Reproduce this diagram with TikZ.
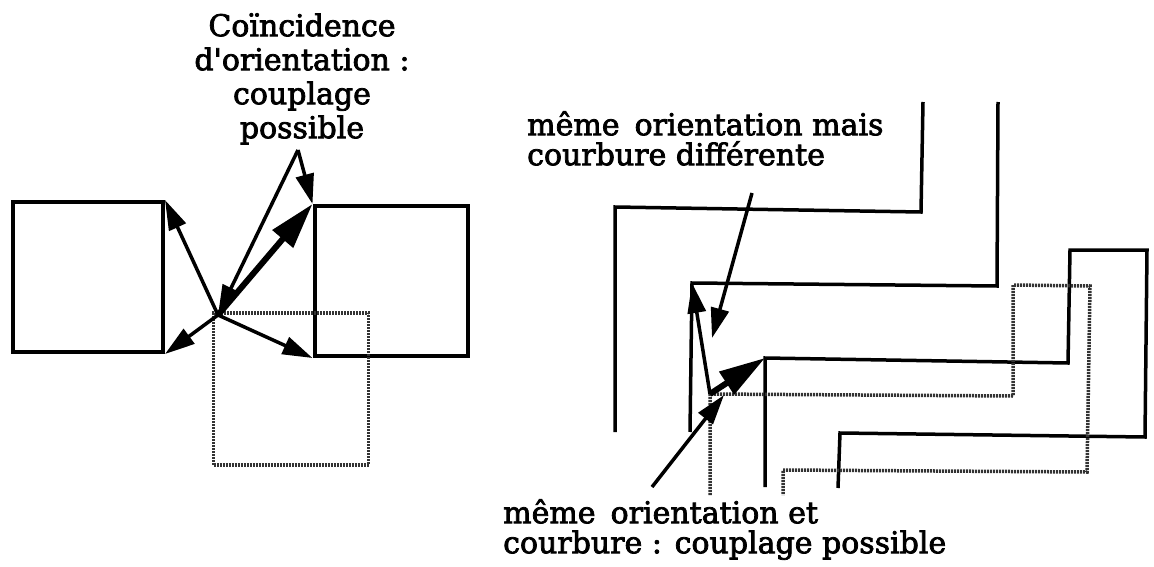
\documentclass[tikz,border=0pt]{standalone}
\usepackage{fontspec}
\setmainfont[FakeBold=2.5]{DejaVu Serif}
\usetikzlibrary{arrows.meta}

\begin{document}
\begin{tikzpicture}[x=1pt, y=-1pt,
  lbl/.style={font=\fontsize{30}{30}\selectfont, inner sep=0pt},
  sq/.style={draw, line width=4pt, inner sep=0pt},
  ghost/.style={draw=black!80, line width=3.5pt, dash pattern=on 2pt off 1pt},
  edge/.style={line width=3.5pt},
  vec/.style={-{Triangle[length=30pt,width=18pt]}, line width=3.5pt},
  bigvec/.style={-{Triangle[length=46pt,width=26pt]}, line width=6pt},
]
\useasboundingbox (0,0) rectangle (1154,567);

% ---------- left: two squares and a shifted one ----------
\node[sq, minimum width=150pt, minimum height=150pt] (ls) at (88,277) {};
\node[sq, minimum width=153pt, minimum height=150pt] (rs) at (391,281) {};
\node[ghost, inner sep=0pt, minimum width=155pt, minimum height=152pt] (gs) at (291,389) {};

\coordinate (P) at (218,315);
\coordinate (apex) at (298,150);

\node[lbl, font=\fontsize{30}{34}\selectfont, align=center, anchor=north]
  (coinc) at (302,13) {Coïncidence\\d\textquotesingle orientation :\\couplage\\possible};

\draw[vec] (P) -- (ls.north east);
\draw[vec] (P) -- (ls.south east);
\draw[bigvec] (P) -- (rs.north west);
\draw[vec] (P) -- (rs.south west);
\draw[vec] (apex) -- (P);
\draw[vec] (apex) -- (rs.north west);

% ---------- right: nested contours ----------
\coordinate (q) at (710,394);
\coordinate (c2) at (692,283);
\coordinate (c3) at (765,358);

\draw[edge] (615,432) -- (615,207) -- (921,212) -- (923,102);
\draw[edge] (690,432) -- (c2) -- (997,286) -- (998,102);
\draw[edge] (765,487) -- (c3) -- (1068,363) -- (1070,250) -- (1147,250)
  -- (1145,437) -- (840,433) -- (838,488);
\draw[ghost] (710,495) -- (q) -- (1013,396) -- (1013,285) -- (1090,286)
  -- (1087,472) -- (783,470) -- (783,495);

\draw[vec] (q) -- (c2);
\draw[bigvec] (q) -- (c3);

% ---------- labels ----------
\node[lbl, align=left, anchor=north west] (diff) at (527,111)
  {même\enspace orientation mais\\courbure différente};
\node[lbl, align=left, anchor=north west] (same) at (503,499)
  {même\enspace orientation et\\courbure : couplage possible};

\coordinate (m1) at (752,193);
\coordinate (t1) at (712,338);
\coordinate (m2) at (652,487);
\coordinate (t2) at (724,395);
\draw[vec] (m1) -- (t1);
\draw[vec] (m2) -- (t2);

\end{tikzpicture}
\end{document}
